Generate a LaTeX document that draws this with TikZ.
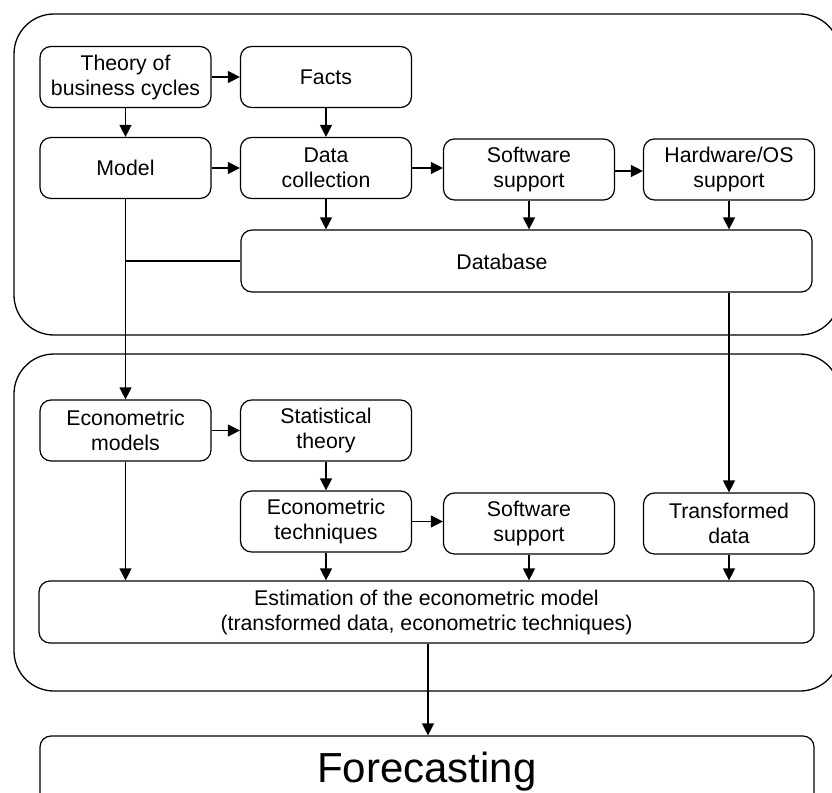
\documentclass[tikz,border=0pt]{standalone}
\usepackage{fontspec}
\setmainfont{Liberation Sans}
\usetikzlibrary{arrows.meta}
\tikzset{
  box/.style={draw, line width=1.2pt, rounded corners=11pt, minimum width=171pt, minimum height=61pt, inner sep=0pt, align=center, font=\fontsize{21.3}{25}\selectfont},
  area/.style={draw, line width=1.3pt, rounded corners=40pt},
  conn/.style={line width=1.2pt, -{Triangle[length=12pt,width=12pt]}},
  plain/.style={line width=1.2pt}
}
\begin{document}
\begin{tikzpicture}[x=1pt,y=-1pt]
\useasboundingbox (0,0) rectangle (832,792);
% areas
\draw[area] (14,14) rectangle (840,335);
\draw[area] (14,354) rectangle (840,691);
% top area nodes
\node[box] (theory) at (125.5,77) {Theory of\\business cycles};
\node[box] (facts) at (326,77) {Facts};
\node[box] (model) at (125.5,168) {Model};
\node[box] (dc) at (326,168) {Data\\collection};
\node[box] (sw1) at (529,169.5) {Software\\support};
\node[box] (hw) at (729,169.5) {Hardware/OS\\support};
\node[box, minimum width=571pt, minimum height=62pt] (db) at (526.5,261) {};
\node[font=\fontsize{21.3}{25}\selectfont, inner sep=0pt] (dbt) at (502,262) {Database};
% bottom area nodes
\node[box] (em) at (125.5,430.5) {Econometric\\models};
\node[box] (st) at (326,430.5) {Statistical\\theory};
\node[box] (et) at (326,521.5) {Econometric\\techniques};
\node[box] (sw2) at (529,523.5) {Software\\support};
\node[box] (td) at (729,523.5) {Transformed\\data};
\node[box, minimum width=775pt, minimum height=62pt] (est) at (426.5,612) {Estimation of the econometric model\\(transformed data, econometric techniques)};
\node[box, minimum width=774pt, minimum height=72pt, font=\fontsize{42}{48}\selectfont] (fc) at (427,772) {\raisebox{-2pt}{Forecasting}};
% connectors top
\draw[conn] (theory.east) -- (facts.west);
\draw[conn] (theory.south) -- (model.north);
\draw[conn] (facts.south) -- (dc.north);
\draw[conn] (model.east) -- (dc.west);
\draw[conn] (dc.east) -- (sw1.west |- dc.east);
\draw[conn] (sw1.east |- 0,171) -- (hw.west |- 0,171);
\draw[conn] (dc.south) -- (dc.south |- db.north);
\draw[conn] (sw1.south) -- (sw1.south |- db.north);
\draw[conn] (hw.south) -- (hw.south |- db.north);
\coordinate (j) at (model.south |- db.west);
\draw[plain] (db.west) -- (j);
\draw[conn] (model.south) -- (em.north);
\draw[conn] (td.north |- db.south) -- (td.north);
% connectors bottom
\draw[conn] (em.east) -- (st.west);
\draw[conn] (st.south) -- (et.north);
\draw[conn] (et.east) -- (sw2.west |- et.east);
\draw[conn] (em.south) -- (em.south |- est.north);
\draw[conn] (et.south) -- (et.south |- est.north);
\draw[conn] (sw2.south) -- (sw2.south |- est.north);
\draw[conn] (td.south) -- (td.south |- est.north);
\draw[conn] (est.south -| 428,0) -- (fc.north -| 428,0);
\end{tikzpicture}
\end{document}
